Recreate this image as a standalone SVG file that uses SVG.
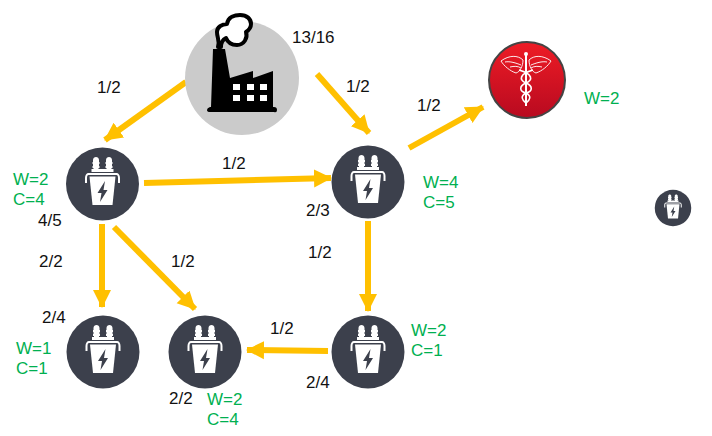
<svg xmlns="http://www.w3.org/2000/svg" width="712" height="436" viewBox="0 0 712 436">
<style>
text{font-family:"Liberation Sans",Arial,sans-serif;font-size:17px;fill:#111}
.g{fill:#00b050}
.c{stroke:#ffc000;stroke-width:6;fill:none;marker-end:url(#a)}
.w{fill:none;stroke:#fff;stroke-width:1;opacity:.9}
</style>
<defs>
<linearGradient id="r" x1="0" y1="0" x2="0" y2="1"><stop offset="0" stop-color="#ee1c25"/><stop offset="1" stop-color="#b80a20"/></linearGradient>
<marker id="a" markerUnits="userSpaceOnUse" markerWidth="20" markerHeight="20" refX="17" refY="10" orient="auto"><path d="M0 1L18 10L0 19Z" fill="#ffc000"/></marker>
<g id="t">
<circle r="36.5" fill="#3c404c"/>
<path d="M-9 -13V-16H-10V-18H-9.500V-20H-10V-22H-9.500V-24C-9.500 -28 -3.500 -28 -3.500 -24V-22H-3V-20H-3.500V-18H-3V-16H-4V-13ZM4 -13V-16H3V-18H3.500V-20H3V-22H3.500V-24C3.500 -28 9.500 -28 9.500 -24V-22H10V-20H9.500V-18H10V-16H9V-13Z" fill="#fff"/>
<path d="M-11 -15H11V-12H-11Z" fill="#fff"/>
<path d="M-14 -11H14C16 -11 17.500 -9 17.500 -6V-1H15.500V-6C15.500 -8 15 -9 14 -9H-14C-15 -9 -15.500 -8 -15.500 -6V-1H-17.500V-6C-17.500 -9 -16 -11 -14 -11Z" fill="#fff"/>
<path d="M-13 -7.500H13L10 21H-10Z" fill="#fff"/>
<path d="M2.500 -3L-5 9H-1L-2.500 18L5 6H1Z" fill="#3c404c"/>
</g>
</defs>
<g id="connectors">
<path class="c" d="M186 82L105 140"/>
<path class="c" d="M317 74L369 133"/>
<path class="c" d="M409 148L483 107"/>
<path class="c" d="M144 183L331 178"/>
<path class="c" d="M368 221V311"/>
<path class="c" d="M102 224V307"/>
<path class="c" d="M114 227L195 309"/>
<path class="c" d="M328 351L247 350"/>
</g>
<g id="factory">
<circle cx="242" cy="78" r="57" fill="#cbcbcb"/>
<path d="M218 47C220 40 217 38 217 32C217 27 222 24 227 24C228 17 235 15 240 15C247 15 251 19 251 24C251 28 249 30 246 32C248 38 244 45 237 45C232 45 228 43 226 38C222 40 221 44 221 47Z" fill="#fff" stroke="#000" stroke-width="4" stroke-linejoin="round"/>
<path d="M213 49H225L230 78L253 71V78L273 71V107H274Q277 107 277 110T274 112H210Q207 112 207 110T210 107H211Z" fill="#000"/>
<path d="M233 84h7v6h-7zM247 84h7v6h-7zM260 84h7v6h-7zM233 95h7v6h-7zM247 95h7v6h-7zM260 95h7v6h-7z" fill="#fff"/>
<text x="292" y="43">13/16</text>
</g>
<g id="hospital">
<circle cx="527" cy="80" r="38" fill="url(#r)" stroke="#444" stroke-width="2"/>
<path d="M526 54V106" fill="none" stroke="#fff" stroke-width="2"/>
<circle cx="526" cy="54" r="2" fill="#fff"/>
<path class="w" d="M501 61C509 55 518 55 523 60C523 66 520 72 516 73C510 71 504 66 501 61ZM505 62C510 61 516 63 521 65M510 67C514 66 518 66 521 68M551 61C543 55 534 55 529 60C529 66 532 72 536 73C542 71 548 66 551 61ZM547 62C542 61 536 63 531 65M542 67C538 66 534 66 531 68"/>
<path d="M519 70C533 74 533 80 526 83C519 86 519 91 526 93C532 96 530 100 526 103M533 70C519 74 519 80 526 83C533 86 533 91 526 93C520 96 522 100 526 103" fill="none" stroke="#fff" stroke-width="1.600"/>
<text x="584" y="104" class="g">W=2</text>
</g>
<g id="n1"><use href="#t" x="102.5" y="184"/></g>
<g id="n2"><use href="#t" x="368" y="182"/></g>
<g id="n3"><use href="#t" x="103" y="352"/></g>
<g id="n4"><use href="#t" x="205" y="352"/></g>
<g id="n5"><use href="#t" x="368" y="352"/></g>
<g id="n6"><use href="#t" transform="translate(673 208) scale(.5)"/></g>
<g id="labels">
<text x="97" y="93">1/2</text>
<text x="346" y="92">1/2</text>
<text x="417" y="111">1/2</text>
<text x="222" y="169">1/2</text>
<text x="308" y="258">1/2</text>
<text x="39" y="267">2/2</text>
<text x="171" y="267">1/2</text>
<text x="270" y="334">1/2</text>
<text x="38" y="226">4/5</text>
<text x="306" y="216">2/3</text>
<text x="42" y="323">2/4</text>
<text x="169" y="404">2/2</text>
<text x="306" y="388">2/4</text>
<text x="13" y="185" class="g">W=2</text><text x="13" y="205" class="g">C=4</text>
<text x="423" y="188" class="g">W=4</text><text x="423" y="208" class="g">C=5</text>
<text x="16" y="354" class="g">W=1</text><text x="16" y="374" class="g">C=1</text>
<text x="207" y="405" class="g">W=2</text><text x="207" y="425" class="g">C=4</text>
<text x="411" y="336" class="g">W=2</text><text x="411" y="356" class="g">C=1</text>
</g>
</svg>
